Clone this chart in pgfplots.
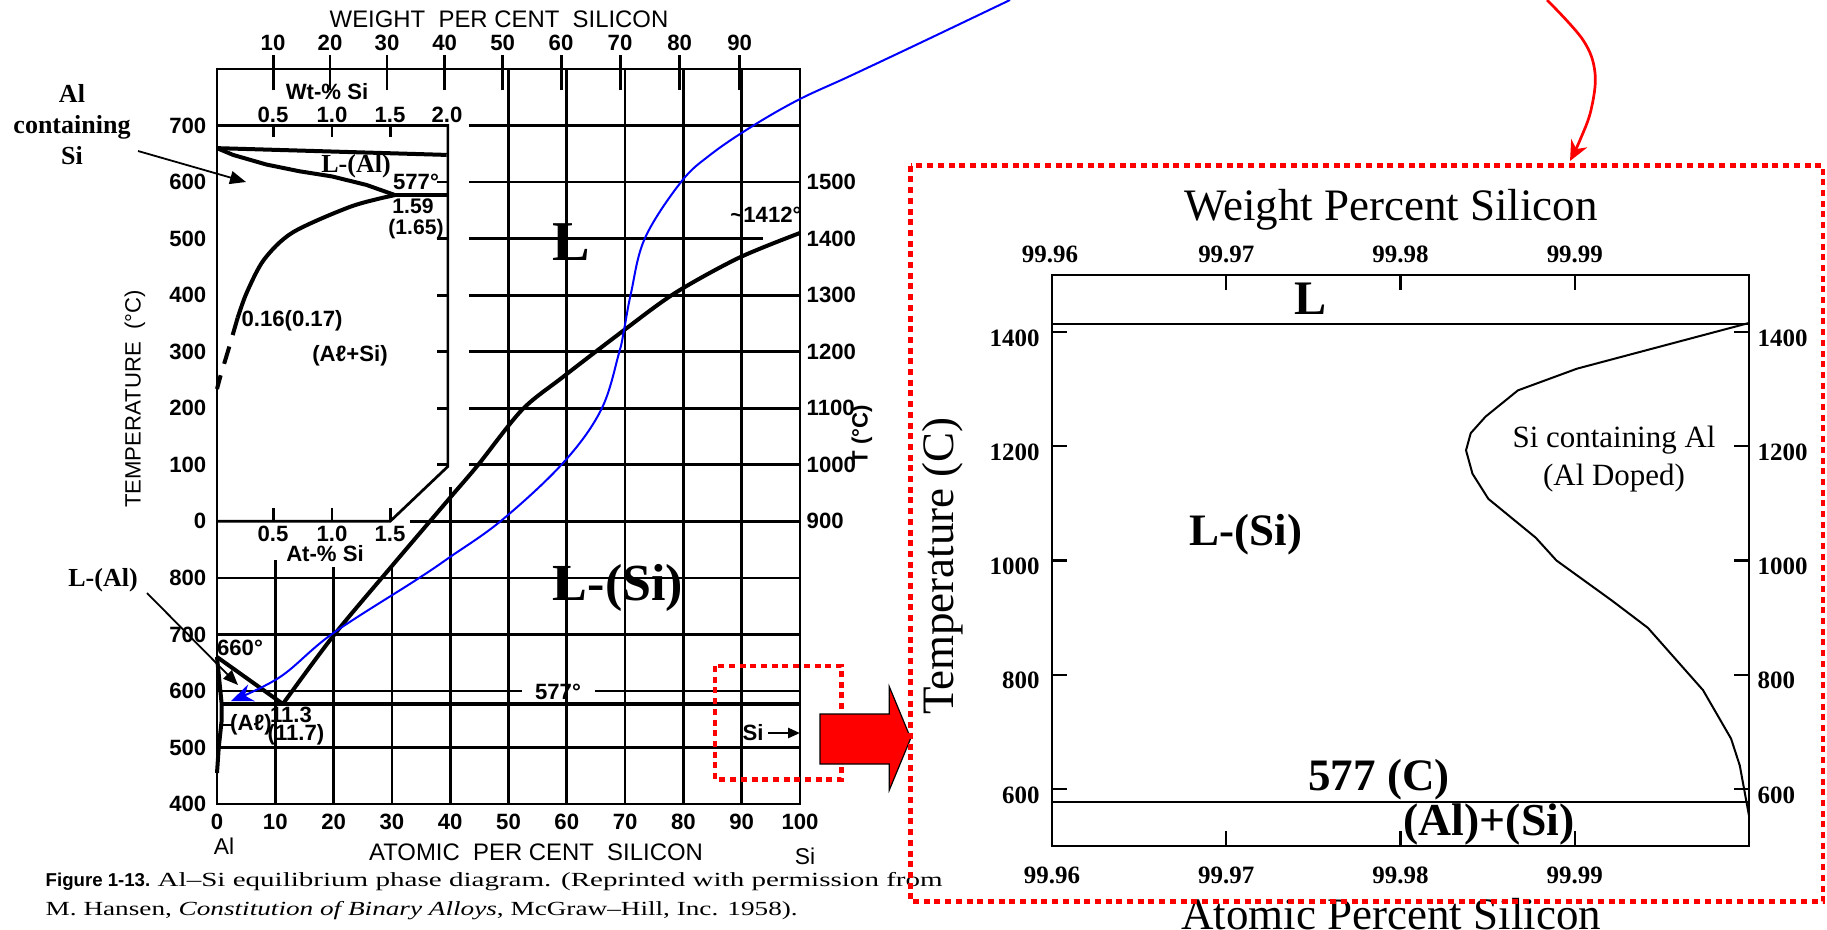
\documentclass[border=0pt]{standalone}
\usepackage{pgfplots}
\pgfplotsset{compat=1.18}
\usepackage{graphicx}
\usepackage{fontspec}
\setmainfont{Liberation Serif}
\newfontfamily\hel{Liberation Sans}
\usetikzlibrary{arrows.meta}
\newcommand{\fs}[1]{\fontsize{#1}{#1}\selectfont}
\begin{document}
\begin{tikzpicture}[gl/.style={line width=0.27mm}, cv/.style={line width=0.4mm}]
\path[use as bounding box] (0,0) rectangle (18.27,-9.29);

% ================= LEFT: Hansen Al-Si diagram (at.% Si vs T) =================
\begin{axis}[
  at={(2.17cm,-8.04cm)}, anchor=south west, scale only axis,
  width=58.3mm, height=73.5mm,
  xmin=0, xmax=100, ymin=400, ymax=1700,
  ticks=none, clip=false,
  axis line style={line width=0.27mm},
]
% grid (lower part)
\draw[gl] (0,500)--(100,500) (0,700)--(100,700) (0,800)--(100,800);
\draw[gl] (0,600)--(52.3,600) (64.8,600)--(100,600);
\draw[gl] (33.1,900)--(100,900);
\pgfplotsinvokeforeach{1000,1100,1200,1300,1500,1600}{\draw[gl] (43.2,#1)--(100,#1);}
\draw[gl] (43.2,1400)--(93.7,1400);
% inset frame
\draw[gl] (0,900)--(29.7,900)--(39.6,997)--(39.6,1600)--(0,1600);
\pgfplotsinvokeforeach{1000,1100,1200,1300,1400,1500}{\draw[gl] (37.8,#1)--(39.6,#1);}
\pgfplotsinvokeforeach{9.7,19.7,29.7}{\draw[gl] (#1,900)--(#1,923) (#1,1600)--(#1,1580);}
% vertical grid
\draw[gl] (10,400)--(10,831) (20,400)--(20,819) (30,400)--(30,819) (40,400)--(40,961);
\pgfplotsinvokeforeach{50,60,70,80,90}{\draw[gl] (#1,400)--(#1,1700);}
% weight per cent ticks (top)
\pgfplotsinvokeforeach{9.645,19.366,29.165,39.042,48.998,59.034,69.151,79.35,89.633}{\draw[gl] (#1,1662)--(#1,1725);}
% phase boundaries
\addplot[cv] coordinates {(0,660) (11.3,577)};
\addplot[cv, smooth, tension=0.5] coordinates {(11.3,577) (20,698) (30,821) (40,942) (44.8,1000) (52.3,1097) (59.3,1155) (69.8,1238) (78.6,1304) (89.5,1366) (100,1410)};
\addplot[cv] coordinates {(0,660) (0.8,577) (0.8,548) (0.3,500) (0,455)};
\addplot[line width=0.45mm] coordinates {(0.8,577) (100,577)};
\draw[gl] (0.8,540)--(3,540);
\end{axis}

% inset: wt.% Si (0-2) vs T (0-700)
\begin{axis}[
  at={(2.17cm,-8.04cm)}, anchor=south west, scale only axis,
  width=58.3mm, height=73.5mm,
  xmin=0, xmax=5.076, ymin=-500, ymax=800,
  hide axis, clip=false,
]
\addplot[cv] coordinates {(0,660) (2.0,648)};
\addplot[cv] coordinates {(0,660) (0.14,648) (0.43,631) (0.72,619) (1.0,610) (1.3,595) (1.55,577)};
\addplot[line width=0.45mm] coordinates {(1.55,577) (2.0,577)};
\addplot[cv, smooth] coordinates {(1.55,577) (1.17,557) (0.66,511) (0.41,463) (0.26,405) (0.18,360)};
\addplot[cv, dash pattern=on 1.8mm off 1.2mm] coordinates {(0.18,360) (0.10,304) (0.03,257) (0,234)};
\end{axis}

% ================= RIGHT: zoomed Si-rich corner =================
\begin{axis}[
  at={(10.52cm,-8.46cm)}, anchor=south west, scale only axis,
  width=69.7mm, height=57.1mm,
  xmin=99.96, xmax=100, ymin=500, ymax=1500,
  xtick={99.96,99.97,99.98,99.99}, xticklabels={99.96,99.97,99.98,99.99},
  ytick={600,800,1000,1200,1400}, yticklabels={600,800,1000,1200,1400},
  xtick pos=both, ytick pos=both, tick align=inside,
  major tick length=1.5mm,
  tick style={black, line width=0.22mm},
  axis line style={line width=0.25mm},
  tick label style={font=\fs{7.1}\bfseries},
  xticklabel style={yshift=-0.85mm},
  yticklabel style={yshift=-0.6mm},
  /pgf/number format/assume math mode=true,
  clip=false,
]
\addplot[line width=0.25mm] coordinates {(99.96,1414) (100,1414)};
\addplot[line width=0.25mm] coordinates {(99.96,577) (100,577)};
\addplot[line width=0.2mm] coordinates {(100,1416) (99.99013,1336) (99.98674,1298) (99.98488,1252) (99.98403,1223) (99.98376,1193) (99.98413,1152) (99.98504,1108) (99.98776,1040) (99.98895,1000) (99.99217,929) (99.9942,882) (99.99736,773) (99.99897,688) (99.99947,641) (100,553)};
\end{axis}

% ================= annotations (pixel frame) =================
\begin{scope}[x=0.1mm, y=-0.1mm, every node/.style={inner sep=0pt, font=\hel\bfseries\fs{6.3}}]
% left diagram texts
\node[font=\hel\fs{6.8}] at (499,19) {WEIGHT\ \ PER CENT\ \ SILICON};
\foreach \x/\l in {273/10,330/20,387/30,444.6/40,502.7/50,561/60,620/70,679.6/80,739.6/90} \node at (\x,43) {\l};
\foreach \y/\l in {577.8/800,634.4/700,690.9/600,747.5/500,804/400} \node[anchor=east] at (207,\y) {\l};
\foreach \y/\l in {125.4/700,182/600,238.5/500,295/400,351.6/300,408.2/200,464.7/100,521.3/0} \node[anchor=east] at (207,\y) {\l};
\foreach \y/\l in {521.3/900,464.7/1000,408.2/1100,351.6/1200,295/1300,238.5/1400,182/1500} \node[anchor=west] at (806,\y) {\l};
\foreach \x/\l in {217/0,275.3/10,333.6/20,391.9/30,450.2/40,508.5/50,566.8/60,625.1/70,683.4/80,741.7/90,800/100} \node at (\x,822) {\l};
\node[font=\hel\fs{6.5}] at (224,846) {Al};
\node[font=\hel\fs{6.5}] at (805,856) {Si};
\node[font=\hel\fs{6.8}] at (536,852) {ATOMIC\ \ PER CENT\ \ SILICON};
\node[rotate=90, font=\hel\fs{6.3}] at (135,399) {TEMPERATURE\ \ (°C)};
\node[rotate=90] at (862,435) {T (°C)};
\node at (327,92) {Wt-\% Si};
\foreach \x/\l in {273/0.5,332/1.0,390/1.5,447/2.0} \node at (\x,115) {\l};
\node at (416,182) {577°};
\node[font=\hel\bfseries\fs{6}] at (413,206) {1.59};
\node[font=\hel\bfseries\fs{6}] at (416,229) {(1.65)};
\node at (292,321) {0.16(0.17)};
\node at (350,356) {(Aℓ+Si)};
\node at (325,554) {At-\% Si};
\foreach \x/\l in {273/0.5,332/1.0,390/1.5} \node at (\x,534) {\l};
\node at (240,648) {660°};
\node at (291,715) {11.3};
\node at (296,735) {(11.7)};
\node at (251,725) {(Aℓ)};
\node at (766,215) {\textasciitilde1412°};
\node at (558,692) {577°};
\node at (753,733) {Si};
\draw[line width=0.25mm, -{Triangle[length=1.2mm,width=1mm]}] (768,733)--(800,733);
% serif annotations on the diagram
\node[font=\rmfamily\bfseries\fs{16}] at (571,242) {L};
\node[font=\rmfamily\bfseries\fs{14.8}] at (618,588) {L-(Si)};
\node[font=\rmfamily\bfseries\fs{7.4}] at (356,166) {L-(Al)};
\node[align=center, font=\rmfamily\fontsize{7.4}{8.8}\selectfont\bfseries] at (72,125) {Al\\containing\\Si};
\node[font=\rmfamily\bfseries\fs{7.4}] at (103,580) {L-(Al)};
\draw[line width=0.18mm, -{Triangle[length=1.6mm,width=1.3mm]}] (138,151)--(246,182);
\draw[line width=0.18mm, -{Triangle[length=1.5mm,width=1.2mm]}] (147,593)--(238,685);
% caption
\node[anchor=base west, font=\hel\bfseries\fs{5.3}] at (45,886) {Figure 1-13.};
\node[anchor=base west, font=\rmfamily\mdseries] at (157,886) {\resizebox{78.5mm}{\height}{\fs{5.7}Al–Si equilibrium phase diagram. (Reprinted with permission from}};
\node[anchor=base west, font=\rmfamily\mdseries] at (45,915) {\resizebox{75.2mm}{\height}{\fs{5.7}M. Hansen, \textit{Constitution of Binary Alloys}, McGraw–Hill, Inc. 1958).}};
% right plot texts
\foreach \x/\l in {1050/99.96,1226.3/99.97,1400.5/99.98,1574.8/99.99} \node[font=\rmfamily\fs{7.1}\bfseries] at (\x,254) {\l};
\foreach \y/\l in {794.9/600,680.7/800,566.5/1000,452.3/1200,338.1/1400} \node[anchor=west, font=\rmfamily\fs{7.1}\bfseries] at (1757,\y) {\l};
\node[anchor=base, font=\rmfamily\fs{12.8}] at (1391,220) {Weight Percent Silicon};
\node[anchor=base, font=\rmfamily\fs{12.8}] at (1391,929) {Atomic Percent Silicon};
\node[anchor=base, rotate=90, font=\rmfamily\fs{12.8}] at (953,566) {Temperature (C)};
\node[font=\rmfamily\fs{13.7}\bfseries] at (1311,299) {L};
\node[anchor=base, font=\rmfamily\fs{12.8}\bfseries] at (1246,545) {L-(Si)};
\node[anchor=base, font=\rmfamily\fs{8.8}] at (1614,447) {Si containing Al};
\node[anchor=base, font=\rmfamily\fs{8.8}] at (1614,485) {(Al Doped)};
\node[anchor=base, font=\rmfamily\fs{12.8}\bfseries] at (1379,790) {577 (C)};
\node[anchor=base, font=\rmfamily\fs{13}\bfseries] at (1489,835) {(Al)+(Si)};
% blue connector
\draw[blue, line width=0.2mm, -{Stealth[length=2.2mm,width=1.8mm]}] plot[smooth, tension=0.6] coordinates {(1010,0) (920,43) (850,76) (798,100) (751,127) (710,155) (681,182) (645,238) (631,293) (624,330) (619,353) (601,410) (563,463) (502,520) (450,557) (416,580) (332,634) (280,677) (231,701)};
% red connector
\draw[red, line width=0.27mm, -{Stealth[length=2mm,width=1.8mm]}] plot[smooth, tension=0.6] coordinates {(1547,0) (1583,40) (1595,73) (1591,110) (1580,140) (1570,161)};
% small dotted box and block arrow
\draw[red, line width=0.45mm, dash pattern=on 0.6mm off 0.47mm] (715,666) rectangle (841.7,779.3);
\filldraw[fill=red, draw=black, line width=0.12mm] (820,714)--(889.3,714)--(889.3,686.7)--(910.7,738.3)--(889.3,790)--(889.3,764)--(820,764)--cycle;
% big dotted box
\draw[red, line width=0.45mm, dash pattern=on 0.6mm off 0.47mm] (910.7,165.7) rectangle (1823,901.7);
\end{scope}
\end{tikzpicture}
\end{document}
